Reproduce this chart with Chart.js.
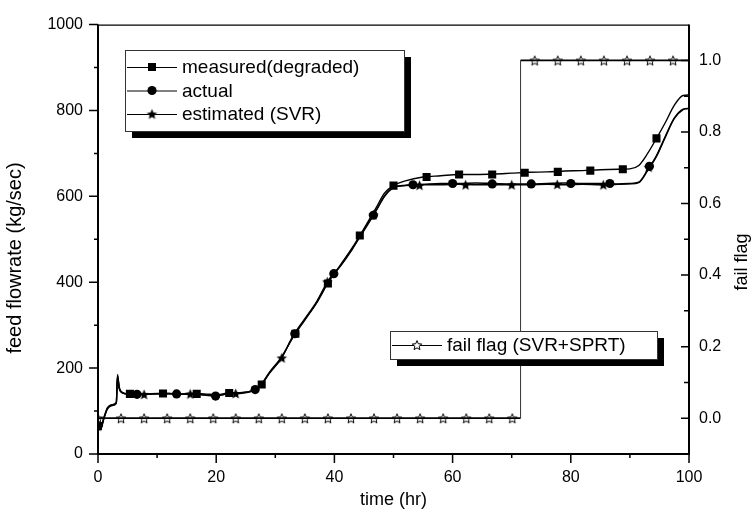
<!DOCTYPE html>
<html>
<head>
<meta charset="utf-8">
<script src="https://cdn.jsdelivr.net/npm/chart.js@4.4.1/dist/chart.umd.min.js"></script>
<style>
  html, body { margin: 0; padding: 0; background: #fff; }
  #wrap { width: 754px; height: 525px; }
</style>
</head>
<body>
<div id="wrap"><canvas id="myChart"></canvas></div>
<script>
// time grid (hr) for the flowrate curves
const time = [0, 0.4, 1, 1.6, 2.4, 3.1, 3.3, 3.6, 4.2, 5,
  6, 8, 10, 12, 14, 16, 18, 20, 22, 24,
  26, 27.5, 29, 31, 33, 35, 37, 39, 41, 43,
  45, 47, 48.5, 50, 52, 55, 58, 61, 64, 67,
  70, 73, 76, 79, 82, 85, 88, 90, 91.5, 93,
  94.5, 96, 97.5, 99, 100];

// feed flowrate (kg/sec)
const measured = [65, 58, 85, 108, 115, 120, 185, 155, 143, 140,
  140, 140, 141, 141, 140, 141, 140, 138, 142, 143,
  147, 160, 190, 225, 272, 312, 352, 400, 440, 480,
  525, 572, 608, 625, 636, 645, 648, 651, 651, 652,
  654, 656, 657, 659, 660, 662, 663, 664, 672, 700,
  735, 772, 812, 835, 836];
const actual = [65, 57, 82, 105, 113, 118, 180, 152, 142, 139,
  138, 139, 140, 140, 139, 139, 137, 135, 140, 141,
  146, 158, 188, 222, 275, 315, 355, 405, 438, 478,
  520, 565, 600, 620, 626, 628, 630, 630, 631, 630,
  629, 629, 630, 631, 630, 630, 629, 630, 633, 662,
  695, 740, 782, 803, 805];
const estimated = [65, 59, 84, 106, 114, 119, 182, 153, 142, 140,
  139, 139, 140, 141, 139, 140, 138, 136, 140, 142,
  147, 159, 189, 223, 273, 313, 353, 403, 437, 476,
  522, 566, 602, 621, 625, 627, 627, 628, 627, 627,
  627, 627, 628, 627, 628, 627, 628, 629, 632, 660,
  693, 738, 781, 802, 805];

// symbol positions
const measuredMarkT = [0, 5.4, 11, 16.7, 22.2, 27.7, 33.4, 38.9, 44.3, 50, 55.6, 61.1, 66.7, 72.2, 77.8, 83.3, 88.8, 94.5];
const measuredMarkV = [65, 140, 141, 140, 142, 162, 280, 397, 509, 625, 645, 651, 651, 655, 657, 660, 663, 735];
const actualMarkT = [0, 6.6, 13.3, 19.9, 26.6, 33.3, 39.9, 46.6, 53.3, 60, 66.7, 73.3, 80, 86.6, 93.3];
const actualMarkV = [65, 139, 140, 135, 150, 280, 420, 556, 627, 630, 629, 629, 630, 630, 670];
const estimatedMarkT = [0, 7.8, 15.6, 23.3, 31.1, 38.8, 46.6, 54.4, 62.2, 70, 77.7, 85.5, 93.2];
const estimatedMarkV = [65, 139, 140, 141, 224, 401, 557, 626, 627, 627, 628, 627, 668];

// fail flag (right axis)
const flagT = [0, 71.5, 71.5, 100];
const flagV = [0, 0, 1, 1];
const flagMarkT = [0, 3.9, 7.8, 11.7, 15.6, 19.5, 23.3, 27.2, 31.1, 35, 38.9, 42.8, 46.7, 50.6, 54.5, 58.4, 62.3, 66.2, 70.1,
  73.9, 77.8, 81.7, 85.6, 89.5, 93.4, 97.3];
const flagMarkV = [0, 0, 0, 0, 0, 0, 0, 0, 0, 0, 0, 0, 0, 0, 0, 0, 0, 0, 0,
  1, 1, 1, 1, 1, 1, 1];

// axes
const xTicks = [0, 20, 40, 60, 80, 100];
const xMinor = [10, 30, 50, 70, 90];
const yTicks = [0, 200, 400, 600, 800, 1000];
const yMinor = [100, 300, 500, 700, 900];
const y2Ticks = [0, 0.2, 0.4, 0.6, 0.8, 1.0];
const y2Minor = [0.1, 0.3, 0.5, 0.7, 0.9];

const legend1Labels = ['measured(degraded)', 'actual', 'estimated (SVR)'];
const legend2Labels = ['fail flag (SVR+SPRT)'];

const FONT = "'Liberation Sans', Arial, sans-serif";
Chart.defaults.font.family = FONT;
Chart.defaults.color = '#000';

function starPath(ctx, cx, cy, R, r) {
  ctx.beginPath();
  for (let i = 0; i < 10; i++) {
    const a = -Math.PI / 2 + i * Math.PI / 5;
    const rad = i % 2 ? r : R;
    ctx.lineTo(cx + rad * Math.cos(a), cy + rad * Math.sin(a));
  }
  ctx.closePath();
}

function makeStar(size, filled) {
  const c = document.createElement('canvas');
  c.width = size; c.height = size;
  const g = c.getContext('2d');
  const R = size / 2 - 1;
  starPath(g, size / 2, size / 2 + 0.6, R, R * 0.45);
  if (filled) {
    g.fillStyle = '#000'; g.fill();
  } else {
    g.fillStyle = '#fff'; g.fill();
    g.strokeStyle = '#000'; g.lineWidth = 1; g.stroke();
  }
  return c;
}

const starFilled = makeStar(13, true);
const starOpen = makeStar(12, false);

const pts = (xs, ys) => xs.map((x, i) => ({ x: x, y: ys[i] }));

const lineDs = (vals) => ({
  data: pts(time, vals),
  yAxisID: 'y',
  showLine: true,
  borderColor: '#000',
  borderWidth: 1.4,
  pointRadius: 0,
  cubicInterpolationMode: 'monotone',
  fill: false
});

const markDs = (xs, ys, style, r) => ({
  data: pts(xs, ys),
  yAxisID: 'y',
  showLine: false,
  pointStyle: style,
  pointRadius: r,
  backgroundColor: '#000',
  borderColor: '#000',
  borderWidth: 0
});

function drawMarker(ctx, kind, x, y) {
  ctx.fillStyle = '#000';
  if (kind === 'rect') {
    ctx.fillRect(x - 4, y - 4, 8, 8);
  } else if (kind === 'circle') {
    ctx.beginPath(); ctx.arc(x, y, 4.6, 0, Math.PI * 2); ctx.fill();
  } else if (kind === 'star') {
    ctx.drawImage(starFilled, x - starFilled.width / 2, y - starFilled.height / 2);
  } else {
    ctx.drawImage(starOpen, x - starOpen.width / 2, y - starOpen.height / 2);
  }
}

function drawLegend(ctx, x, y, w, h, labels, kinds, rowY) {
  ctx.save();
  ctx.fillStyle = '#000';
  ctx.fillRect(x + 7, y + 7, w, h);
  ctx.fillStyle = '#fff';
  ctx.fillRect(x, y, w, h);
  ctx.strokeStyle = '#333';
  ctx.lineWidth = 1;
  ctx.strokeRect(x + 0.5, y + 0.5, w, h);
  ctx.font = '19px ' + FONT;
  ctx.textBaseline = 'middle';
  labels.forEach((lab, i) => {
    const ly = rowY[i];
    ctx.strokeStyle = '#000';
    ctx.beginPath();
    ctx.moveTo(x + 2, ly + 0.5);
    ctx.lineTo(x + 52, ly + 0.5);
    ctx.stroke();
    drawMarker(ctx, kinds[i], x + 27, ly);
    ctx.fillStyle = '#000';
    ctx.fillText(lab, x + 57, ly + 1);
  });
  ctx.restore();
}

function vTitle(ctx, text, x, y, size) {
  ctx.save();
  ctx.translate(x, y);
  ctx.rotate(-Math.PI / 2);
  ctx.font = size + 'px ' + FONT;
  ctx.fillStyle = '#000';
  ctx.textAlign = 'center';
  ctx.textBaseline = 'middle';
  ctx.fillText(text, 0, 0);
  ctx.restore();
}

const framePlugin = {
  id: 'frame',
  afterDatasetsDraw(chart) {
    const { ctx, chartArea: a, scales } = chart;
    ctx.save();
    ctx.strokeStyle = '#000';
    // frame
    ctx.lineWidth = 1.3;
    ctx.beginPath(); ctx.moveTo(a.left, a.top + 0.5); ctx.lineTo(a.right, a.top + 0.5); ctx.stroke();
    ctx.lineWidth = 2;
    ctx.beginPath();
    ctx.moveTo(a.left, a.top); ctx.lineTo(a.left, a.bottom);
    ctx.lineTo(a.right, a.bottom); ctx.lineTo(a.right, a.top);
    ctx.stroke();
    // ticks
    ctx.lineWidth = 1.5;
    ctx.beginPath();
    xTicks.forEach(v => { const p = scales.x.getPixelForValue(v); ctx.moveTo(p, a.bottom); ctx.lineTo(p, a.bottom + 9); });
    xMinor.forEach(v => { const p = scales.x.getPixelForValue(v); ctx.moveTo(p, a.bottom); ctx.lineTo(p, a.bottom + 4); });
    yTicks.forEach(v => { const p = scales.y.getPixelForValue(v); ctx.moveTo(a.left, p); ctx.lineTo(a.left - 9, p); });
    yMinor.forEach(v => { const p = scales.y.getPixelForValue(v); ctx.moveTo(a.left, p); ctx.lineTo(a.left - 4, p); });
    y2Ticks.forEach(v => { const p = scales.y2.getPixelForValue(v); ctx.moveTo(a.right, p); ctx.lineTo(a.right - 8, p); });
    y2Minor.forEach(v => { const p = scales.y2.getPixelForValue(v); ctx.moveTo(a.right, p); ctx.lineTo(a.right - 5, p); });
    ctx.stroke();
    ctx.restore();

    // axis titles
    vTitle(ctx, 'feed flowrate (kg/sec)', 15, 258, 20);
    vTitle(ctx, 'fail flag', 742, 262, 18);

    drawLegend(ctx, 125, 50, 279, 81, legend1Labels, ['rect', 'circle', 'star'], [67, 90.5, 114]);
    drawLegend(ctx, 390, 331, 267, 28, legend2Labels, ['open'], [345]);
  }
};

const ctx = document.getElementById('myChart');

new Chart(ctx, {
  type: 'scatter',
  data: {
    datasets: [
      lineDs(measured),
      lineDs(actual),
      lineDs(estimated),
      markDs(measuredMarkT, measuredMarkV, 'rect', 5.7),
      markDs(actualMarkT, actualMarkV, 'circle', 4.6),
      markDs(estimatedMarkT, estimatedMarkV, starFilled, 6),
      {
        data: pts(flagT, flagV),
        yAxisID: 'y2',
        showLine: true,
        borderColor: '#000',
        borderWidth: 1.7,
        pointRadius: 0,
        segment: {
          borderColor: c => c.p0.parsed.x === c.p1.parsed.x ? '#333' : '#000',
          borderWidth: c => c.p0.parsed.x === c.p1.parsed.x ? 1 : 1.7
        }
      },
      {
        data: pts(flagMarkT, flagMarkV),
        yAxisID: 'y2',
        showLine: false,
        pointStyle: starOpen,
        pointRadius: 6
      }
    ]
  },
  options: {
    responsive: true,
    maintainAspectRatio: false,
    animation: false,
    layout: { padding: { top: 17, left: 0, right: 0, bottom: 0 } },
    plugins: {
      legend: { display: false },
      tooltip: { enabled: false }
    },
    scales: {
      x: {
        type: 'linear',
        min: 0,
        max: 100,
        afterBuildTicks: s => { s.ticks = xTicks.map(v => ({ value: v })); },
        afterFit: s => { s.height = 71; },
        grid: { display: false, drawTicks: false },
        border: { display: false },
        ticks: { padding: 14, font: { size: 16 }, callback: v => String(v) },
        title: { display: true, text: 'time (hr)', font: { size: 18 }, padding: { top: 0, bottom: 14 } }
      },
      y: {
        position: 'left',
        min: 0,
        max: 1000,
        afterBuildTicks: s => { s.ticks = yTicks.map(v => ({ value: v })); },
        afterFit: s => { s.width = 98; },
        grid: { display: false, drawTicks: false },
        border: { display: false },
        ticks: { padding: 15, font: { size: 16 }, callback: v => String(v) }
      },
      y2: {
        position: 'right',
        min: -0.1,
        max: 1.1,
        afterBuildTicks: s => { s.ticks = y2Ticks.map(v => ({ value: v })); },
        afterFit: s => { s.width = 65; },
        grid: { display: false, drawTicks: false },
        border: { display: false },
        ticks: { padding: 10, font: { size: 16 }, callback: v => v.toFixed(1) }
      }
    }
  },
  plugins: [framePlugin]
});
</script>
</body>
</html>
